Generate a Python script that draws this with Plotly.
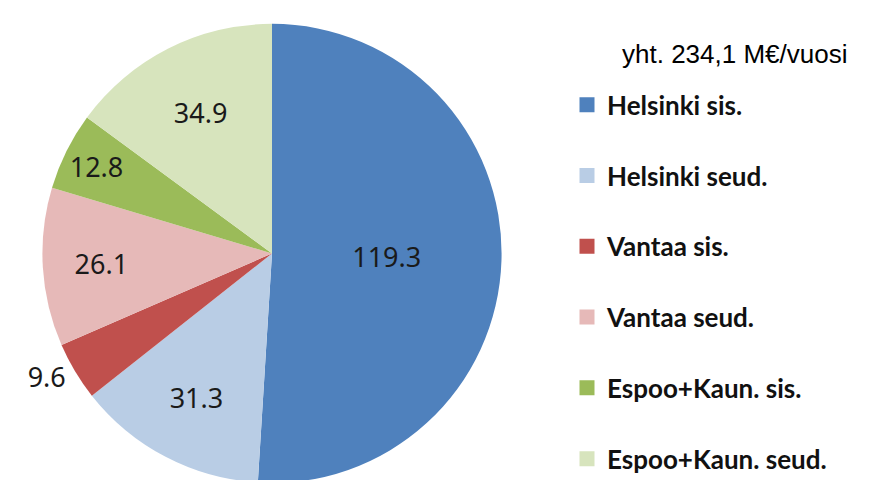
import plotly.graph_objects as go

labels = ["Helsinki sis.", "Helsinki seud.", "Vantaa sis.", "Vantaa seud.",
          "Espoo+Kaun. sis.", "Espoo+Kaun. seud."]
values = [119.3, 31.3, 9.6, 26.1, 12.8, 34.9]
colors = ["#4F81BD", "#B9CDE5", "#C0504D", "#E6B9B8", "#9BBB59", "#D7E4BD"]
text_pos = ["inside", "inside", "outside", "inside", "inside", "inside"]
total_text = "yht. 234,1 M€/vuosi"

W, H = 872, 480

fig = go.Figure()
fig.add_trace(go.Pie(
    labels=labels, values=values, sort=False, direction="clockwise", rotation=0,
    marker=dict(colors=colors, line=dict(width=0)),
    texttemplate="%{value:.1f}", textposition=text_pos,
    insidetextorientation="horizontal",
    textfont=dict(family="Noto Sans", size=27, color="#1a1a1a"),
    domain=dict(x=[32 / W, 496 / W], y=[0, 1 - 16 / H]),
    showlegend=False, hoverinfo="label+value",
))

# legend entries as separate groups so the spacing can match
for i, (lab, col) in enumerate(zip(labels, colors)):
    fig.add_trace(go.Scatter(
        x=[None], y=[None], mode="markers", name=lab, legendgroup=str(i),
        marker=dict(symbol="square", size=15, color=col),
    ))

fig.add_annotation(text=total_text, x=612 / W, y=1 - 46 / H, xref="paper", yref="paper",
                   xanchor="left", yanchor="middle", showarrow=False,
                   font=dict(family="Liberation Sans", size=26, color="#000000"))

fig.update_layout(
    width=W, height=H, margin=dict(l=0, r=0, t=0, b=0),
    paper_bgcolor="white", plot_bgcolor="white",
    xaxis=dict(visible=False), yaxis=dict(visible=False),
    legend=dict(x=559 / W, y=1 - 74 / H, xanchor="left", yanchor="top",
                tracegroupgap=34,
                font=dict(family="Lato", size=26, color="#111111", weight="bold"),
                bgcolor="rgba(0,0,0,0)"),
)

fig.write_html("out.html")
